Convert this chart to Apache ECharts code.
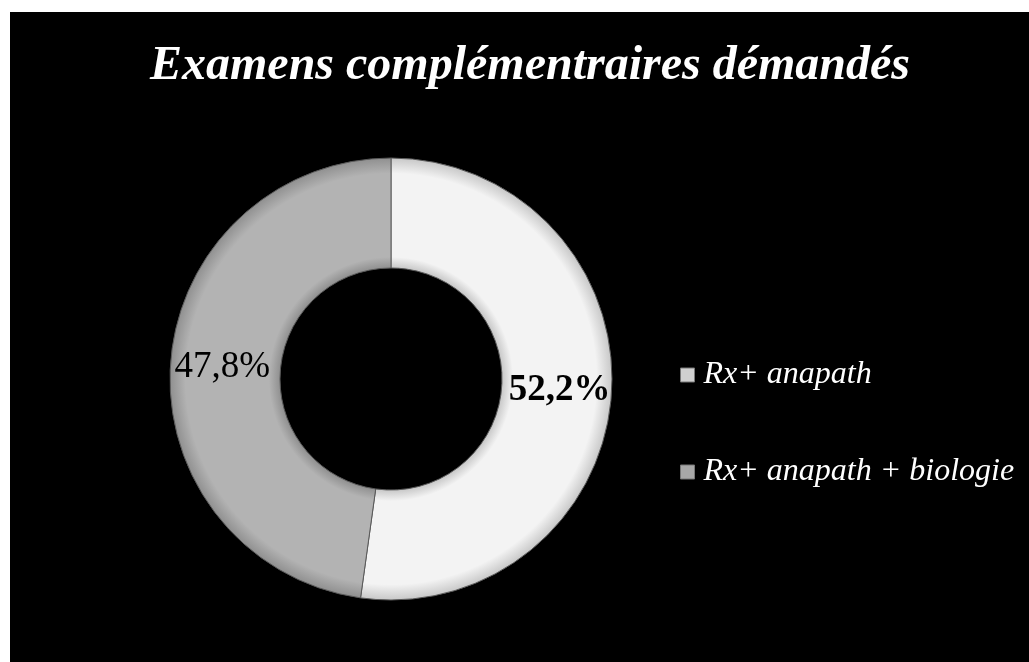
<!DOCTYPE html>
<html><head><meta charset="utf-8">
<script src="https://cdn.jsdelivr.net/npm/echarts@6/dist/echarts.min.js"></script>
<style>
html,body{margin:0;padding:0;background:#fff;width:1029px;height:662px;overflow:hidden}
#c{position:absolute;left:10px;top:12px;width:1019px;height:650px;background:#000}
</style></head><body><div id="c"></div>
<script>
const titleText = 'Examens complémentraires démandés';
const categories = ['Rx+ anapath', 'Rx+ anapath + biologie'];
const values = [52.2, 47.8];
const labelBold = [true, false];

const cx = 381, cy = 367, rOut = 221, rIn = 111;
function ringGrad(edge, mid) {
  return { type: 'radial', x: cx, y: cy, r: rOut, global: true,
    colorStops: [
      { offset: rIn / rOut, color: edge },
      { offset: rIn / rOut + 0.05, color: mid },
      { offset: 0.93, color: mid },
      { offset: 1, color: edge }
    ] };
}
const fills = [ringGrad('#c8c8c8', '#f3f3f3'), ringGrad('#909090', '#b3b3b3')];
const iconColors = ['#d0d0d0', '#a8a8a8'];

const chart = echarts.init(document.getElementById('c'));
chart.setOption({
  backgroundColor: '#000',
  animation: false,
  title: {
    text: titleText, left: 135, top: 26,
    textStyle: { color: '#fff', fontFamily: 'Liberation Serif', fontStyle: 'italic', fontWeight: 'bold', fontSize: 48 }
  },
  legend: {
    orient: 'vertical', left: 665, top: 342, itemGap: 65,
    itemWidth: 14, itemHeight: 14, icon: 'rect',
    textStyle: { color: '#fff', fontFamily: 'Liberation Serif', fontStyle: 'italic', fontSize: 32, padding: [0, 0, 0, 4] },
    data: categories.map((n, i) => ({ name: n, itemStyle: { color: iconColors[i], borderColor: '#777', borderWidth: 1 } }))
  },
  series: [{
    type: 'pie', center: [cx, cy], radius: [rIn, rOut], startAngle: 90, clockwise: true,
    label: {
      position: 'inside', color: '#000', fontFamily: 'Liberation Serif', fontSize: 37,
      formatter: p => p.value.toFixed(1).replace('.', ',') + '%'
    },
    labelLine: { show: false },
    itemStyle: { borderColor: '#5a5a5a', borderWidth: 1 },
    emphasis: { disabled: true },
    data: categories.map((n, i) => ({
      name: n, value: values[i],
      itemStyle: { color: fills[i] },
      label: { fontWeight: labelBold[i] ? 'bold' : 'normal' }
    }))
  }]
});
</script></body></html>
